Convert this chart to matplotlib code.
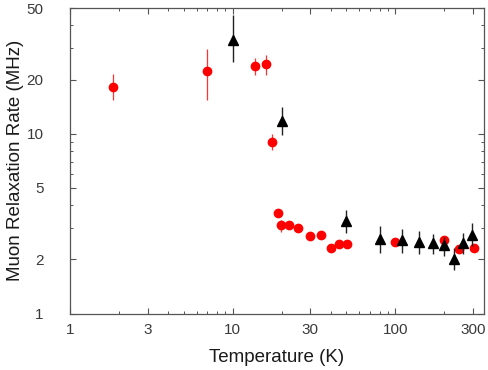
import numpy as np
import matplotlib
matplotlib.use('Agg')
import matplotlib.pyplot as plt
from matplotlib.ticker import FixedLocator, NullFormatter

plt.rcParams['font.family'] = ['Liberation Sans', 'DejaVu Sans']

# red circles
t_red = [1.83, 6.98, 13.8, 16.0, 17.4, 19.1, 19.8, 22.1, 25.1, 30.0, 34.9, 40.2, 45.0, 50.1, 100, 200, 247, 305]
r_red = [18.2, 22.4, 23.8, 24.3, 8.96, 3.63, 3.12, 3.12, 2.97, 2.69, 2.75, 2.30, 2.43, 2.43, 2.49, 2.55, 2.27, 2.32]
r_red_lo = [15.3, 15.4, 21.2, 21.2, 8.1, 3.45, 2.85, 3.02, 2.88, 2.61, 2.67, 2.23, 2.36, 2.36, 2.42, 2.45, 2.2, 2.25]
r_red_hi = [21.5, 29.7, 26.3, 27.4, 9.9, 3.8, 3.3, 3.22, 3.06, 2.77, 2.83, 2.37, 2.5, 2.5, 2.56, 2.65, 2.34, 2.39]

# black triangles
t_blk = [10.0, 20.0, 50.0, 80, 110, 140, 170, 200, 230, 259, 297]
r_blk = [33.3, 11.7, 3.26, 2.58, 2.55, 2.49, 2.46, 2.39, 2.01, 2.47, 2.72]
r_blk_lo = [24.9, 9.8, 2.81, 2.17, 2.17, 2.13, 2.13, 2.08, 1.74, 2.15, 2.37]
r_blk_hi = [45.8, 14.1, 3.75, 3.05, 2.96, 2.87, 2.78, 2.67, 2.32, 2.81, 3.19]

xticks = [1, 3, 10, 30, 100, 300]
yticks = [1, 2, 5, 10, 20, 50]

fig = plt.figure(figsize=(4.89, 3.70), dpi=100)
ax = fig.add_axes([70/489, 1-313.5/370, 413.7/489, 305.5/370])

r_red = np.array(r_red)
r_blk = np.array(r_blk)
ax.errorbar(t_red, r_red, yerr=[r_red - np.array(r_red_lo), np.array(r_red_hi) - r_red],
            fmt='o', color='red', ms=6, mec='red', ecolor='#ff3333', elinewidth=0.9,
            capsize=0, zorder=3)
ax.errorbar(t_blk, r_blk, yerr=[r_blk - np.array(r_blk_lo), np.array(r_blk_hi) - r_blk],
            fmt='^', color='black', ms=7, ecolor='#222222', elinewidth=1.0,
            capsize=0, zorder=4)

ax.set_xscale('log')
ax.set_yscale('log')
ax.set_xlim(1, 349)
ax.set_ylim(1, 50)

ax.xaxis.set_major_locator(FixedLocator(xticks))
ax.set_xticklabels([str(v) for v in xticks])
xminor = [v * d for d in [1, 10, 100] for v in range(2, 10) if v * d < 349 and v * d not in xticks]
ax.xaxis.set_minor_locator(FixedLocator(xminor))
ax.xaxis.set_minor_formatter(NullFormatter())

ax.yaxis.set_major_locator(FixedLocator(yticks))
ax.set_yticklabels([str(v) for v in yticks])
yminor = [3, 4, 6, 7, 8, 9, 30, 40]
ax.yaxis.set_minor_locator(FixedLocator(yminor))
ax.yaxis.set_minor_formatter(NullFormatter())

for s in ax.spines.values():
    s.set_color('#555555')
    s.set_linewidth(0.9)

ax.tick_params(which='both', direction='in', top=True, right=True, color='#555555',
               labelcolor='#3a3a3a', labelsize=11)
ax.tick_params(which='major', length=4.5, width=0.8)
ax.tick_params(which='minor', length=2.5, width=0.7)
ax.tick_params(axis='y', which='major', pad=19)
ax.tick_params(axis='x', which='major', pad=7)

ax.set_xlabel('Temperature (K)', fontsize=13.5, color='#1a1a1a')
ax.set_ylabel('Muon Relaxation Rate (MHz)', fontsize=13.5, color='#1a1a1a')
ax.xaxis.set_label_coords(0.5, -0.115)
ax.yaxis.set_label_coords(-0.11, 0.5)

fig.savefig('out.png', dpi=100)
